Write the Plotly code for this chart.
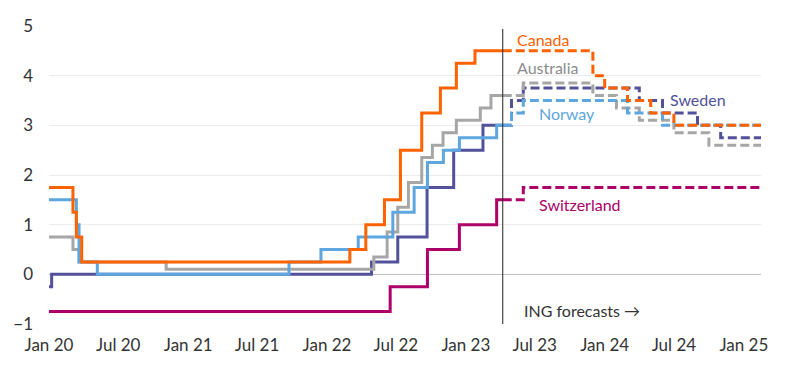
import plotly.graph_objects as go

# ---------------- data ----------------
# Policy rates (%), step changes: actual history up to forecast date, then ING forecasts
forecast_date = "2023-04-08"
end_date = "2025-02-15"

canada_dates = ["2020-01-01", "2020-03-04", "2020-03-13", "2020-03-27", "2022-03-02", "2022-04-13",
                "2022-06-01", "2022-07-13", "2022-09-07", "2022-10-26", "2022-12-07", "2023-01-25", forecast_date]
canada_values = [1.75, 1.25, 0.75, 0.25, 0.5, 1.0, 1.5, 2.5, 3.25, 3.75, 4.25, 4.5, 4.5]
canada_fc_dates = [forecast_date, "2023-12-01", "2024-01-01", "2024-03-01", "2024-05-01", "2024-07-01", end_date]
canada_fc_values = [4.5, 4.0, 3.75, 3.5, 3.25, 3.0, 3.0]

australia_dates = ["2020-01-01", "2020-03-04", "2020-03-20", "2020-11-04", "2022-05-04", "2022-06-08",
                   "2022-07-06", "2022-08-03", "2022-09-07", "2022-10-05", "2022-11-02", "2022-12-07",
                   "2023-02-08", "2023-03-08", forecast_date]
australia_values = [0.75, 0.5, 0.25, 0.10, 0.35, 0.85, 1.35, 1.85, 2.35, 2.6, 2.85, 3.1, 3.35, 3.6, 3.6]
australia_fc_dates = [forecast_date, "2023-06-01", "2023-12-01", "2024-02-01", "2024-04-01", "2024-07-01",
                      "2024-10-01", end_date]
australia_fc_values = [3.6, 3.85, 3.6, 3.35, 3.1, 2.85, 2.6, 2.6]

sweden_dates = ["2020-01-01", "2020-01-08", "2022-04-28", "2022-07-06", "2022-09-21", "2022-11-30",
                "2023-02-15", forecast_date]
sweden_values = [-0.25, 0.0, 0.25, 0.75, 1.75, 2.5, 3.0, 3.0]
sweden_fc_dates = [forecast_date, "2023-05-01", "2023-06-01", "2024-04-01", "2024-06-01", "2024-09-01",
                   "2024-11-01", end_date]
sweden_fc_values = [3.0, 3.5, 3.75, 3.5, 3.25, 3.0, 2.75, 2.75]

norway_dates = ["2020-01-01", "2020-03-13", "2020-03-20", "2020-05-07", "2021-09-23", "2021-12-16",
                "2022-03-24", "2022-06-23", "2022-08-18", "2022-09-22", "2022-11-03", "2022-12-15",
                "2023-03-23", forecast_date]
norway_values = [1.5, 1.0, 0.25, 0.0, 0.25, 0.5, 0.75, 1.25, 1.75, 2.25, 2.5, 2.75, 3.0, 3.0]
norway_fc_dates = [forecast_date, "2023-05-01", "2023-06-01", "2024-03-01", "2024-06-01", end_date]
norway_fc_values = [3.0, 3.25, 3.5, 3.25, 3.0, 3.0]

swiss_dates = ["2020-01-01", "2022-06-16", "2022-09-22", "2022-12-15", "2023-03-23", forecast_date]
swiss_values = [-0.75, -0.25, 0.5, 1.0, 1.5, 1.5]
swiss_fc_dates = [forecast_date, "2023-06-01", end_date]
swiss_fc_values = [1.5, 1.75, 1.75]

tick_dates = ["2020-01-01", "2020-07-01", "2021-01-01", "2021-07-01", "2022-01-01", "2022-07-01",
              "2023-01-01", "2023-07-01", "2024-01-01", "2024-07-01", "2025-01-01"]
tick_labels = ["Jan 20", "Jul 20", "Jan 21", "Jul 21", "Jan 22", "Jul 22",
               "Jan 23", "Jul 23", "Jan 24", "Jul 24", "Jan 25"]
y_ticks = [-1, 0, 1, 2, 3, 4, 5]

# ---------------- styling ----------------
FONT = "Lato"
TEXT = "#333333"
series = [
    ("Sweden", sweden_dates, sweden_values, sweden_fc_dates, sweden_fc_values, "#525199"),
    ("Australia", australia_dates, australia_values, australia_fc_dates, australia_fc_values, "#A6A6A6"),
    ("Norway", norway_dates, norway_values, norway_fc_dates, norway_fc_values, "#5DA6E0"),
    ("Canada", canada_dates, canada_values, canada_fc_dates, canada_fc_values, "#FF6200"),
    ("Switzerland", swiss_dates, swiss_values, swiss_fc_dates, swiss_fc_values, "#AD0068"),
]

fig = go.Figure()
for name, d, v, fd, fv, col in series:
    fig.add_trace(go.Scatter(x=fd, y=fv, mode="lines", line=dict(color=col, width=3, shape="hv", dash="9px,4px"),
                             name=name + " forecast", showlegend=False, hoverinfo="skip"))
for name, d, v, fd, fv, col in series:
    fig.add_trace(go.Scatter(x=d, y=v, mode="lines", line=dict(color=col, width=3, shape="hv"),
                             name=name, showlegend=False))

y_range = [-1, 5]
x_range = ["2020-01-01", end_date]

# forecast divider
fig.add_shape(type="line", xref="x", yref="y", x0=forecast_date, x1=forecast_date,
              y0=y_range[0], y1=4.94, line=dict(color="#222222", width=1), layer="above")

labels = [
    ("Canada", "2023-05-12", 4.73, "#FF6200"),
    ("Australia", "2023-05-14", 4.17, "#8C8C8C"),
    ("Sweden", "2024-06-18", 3.52, "#525199"),
    ("Norway", "2023-07-10", 3.24, "#5DA6E0"),
    ("Switzerland", "2023-07-10", 1.40, "#AD0068"),
    ("ING forecasts \u2192", "2023-05-31", -0.72, TEXT),
]
for txt, x, y, col in labels:
    fig.add_annotation(x=x, y=y, xref="x", yref="y", text=txt, showarrow=False, xanchor="left",
                       yanchor="middle", font=dict(family=FONT, size=16, color=col), borderpad=0)

# the page body has an 8px default margin, so the figure is offset by 8px
fig.update_layout(
    width=792, height=361,
    margin=dict(l=41, r=39, t=18, b=45, autoexpand=False),
    paper_bgcolor="white", plot_bgcolor="white",
    font=dict(family=FONT, size=16, color=TEXT),
    showlegend=False,
    xaxis=dict(type="date", range=x_range, tickvals=tick_dates, ticktext=tick_labels,
               showgrid=False, showline=False, zeroline=False, ticks="", automargin=False,
               ticklabelstandoff=9, tickfont=dict(family=FONT, size=17, color=TEXT)),
    xaxis2=dict(type="date", range=x_range, overlaying="x", anchor="free",
                position=(0 - y_range[0]) / (y_range[1] - y_range[0]), side="bottom",
                tickvals=tick_dates, showticklabels=False, ticks="outside", ticklen=5,
                tickcolor="#BFBFBF", tickwidth=1, showline=False, showgrid=False, zeroline=False,
                automargin=False),
    yaxis=dict(range=y_range, tickvals=y_ticks, showgrid=True, gridcolor="#EBEBEB", gridwidth=1,
               zeroline=True, zerolinecolor="#BFBFBF", zerolinewidth=1, showline=False, ticks="",
               automargin=False, ticklabelstandoff=15, tickfont=dict(family=FONT, size=17, color=TEXT)),
)

fig.write_html("out.html")
